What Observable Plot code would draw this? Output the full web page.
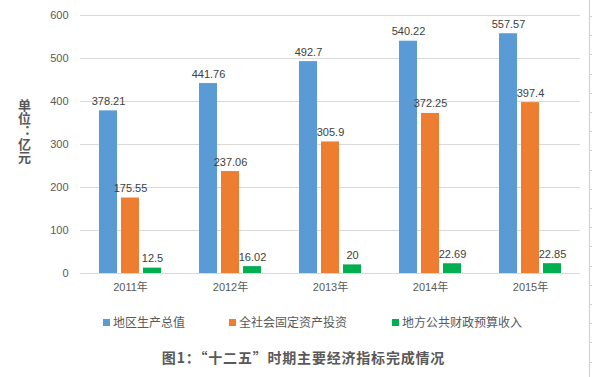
<!DOCTYPE html>
<html>
<head>
<meta charset="utf-8">
<script src="https://cdn.jsdelivr.net/npm/d3@7"></script>
<script src="https://cdn.jsdelivr.net/npm/@observablehq/plot@0.6"></script>
<style>
  body { margin: 0; background: #fff; font-family: "Liberation Sans", "Noto Sans CJK SC", sans-serif; }
  #wrap { position: relative; width: 592px; height: 377px; overflow: hidden; }
  #chart { position: absolute; left: 0; top: 0; }
  #ylabel { position: absolute; left: 15px; top: 99px; writing-mode: vertical-rl; text-orientation: upright;
    font-family: "Noto Sans CJK SC", sans-serif; font-size: 13px; font-weight: bold; color: #595959; }
  .leg { position: absolute; top: 313px; font-family: "Noto Sans CJK SC", sans-serif; font-size: 12px; color: #595959; white-space: nowrap; }
  .leg i { display: inline-block; width: 7px; height: 7px; margin-right: 3px; vertical-align: 1px; }
  #title { position: absolute; top: 347px; left: 0; width: 607px; text-align: center; font-family: "Noto Sans CJK SC", sans-serif;
    font-size: 14px; font-weight: bold; color: #595959; white-space: nowrap; letter-spacing: 0.8px; }
  #edge { position: absolute; left: 589px; top: 0; width: 3px; height: 377px; border-left: 1px solid #d0d0d0;
    background: repeating-linear-gradient(to bottom, transparent 0px, transparent 16px, #d0d0d0 16px, #d0d0d0 17px, transparent 17px, transparent 19.2px); }
</style>
</head>
<body>
<div id="wrap">
  <div id="chart"></div>
  <div id="ylabel">单位：亿元</div>
  <div id="legend"></div>
  <div id="title">图1：“十二五”时期主要经济指标完成情况</div>
  <div id="edge"></div>
</div>
<script>
const years = ["2011年", "2012年", "2013年", "2014年", "2015年"];
const series = ["地区生产总值", "全社会固定资产投资", "地方公共财政预算收入"];
const gdp = [378.21, 441.76, 492.7, 540.22, 557.57];
const investment = [175.55, 237.06, 305.9, 372.25, 397.4];
const revenue = [12.5, 16.02, 20, 22.69, 22.85];
const colors = ["#5B9BD5", "#ED7D31", "#00B050"];
const yTicks = [0, 100, 200, 300, 400, 500, 600];

const valuesBySeries = [gdp, investment, revenue];
const data = [];
years.forEach((yr, i) => {
  series.forEach((s, j) => data.push({year: yr, series: s, value: valuesBySeries[j][i]}));
});

const chart = Plot.plot({
  width: 592,
  height: 300,
  marginLeft: 80,
  marginRight: 12,
  marginTop: 15,
  marginBottom: 27,
  style: {fontFamily: "'Liberation Sans', 'Noto Sans CJK SC', sans-serif", fontSize: "11px", color: "#595959", background: "transparent"},
  facet: {data: data, x: "year", marginBottom: 27},
  fx: {domain: years, paddingInner: 0, paddingOuter: 0, label: null, axis: "bottom", tickSize: 0, tickPadding: 10},
  x: {domain: series, axis: null, paddingInner: 0.2, paddingOuter: 0.82},
  y: {domain: [0, 600], ticks: yTicks, label: null, tickSize: 0, tickPadding: 12, grid: false},
  color: {domain: series, range: colors},
  marks: [
    Plot.gridY(yTicks, {stroke: "#d9d9d9", strokeOpacity: 1}),
    Plot.barY(data, {x: "series", y: "value", fill: "series"}),
    Plot.text(data, {x: "series", y: "value", text: d => String(d.value), dy: -6, lineAnchor: "bottom",
      fill: "#404040", fontSize: 11})
  ]
});
document.getElementById("chart").appendChild(chart);

const legend = document.getElementById("legend");
const legLeft = [103, 229, 392];
series.forEach((s, j) => {
  const el = document.createElement("div");
  el.className = "leg";
  el.style.left = legLeft[j] + "px";
  el.innerHTML = `<i style="background:${colors[j]}"></i>${s}`;
  legend.appendChild(el);
});
</script>
</body>
</html>
